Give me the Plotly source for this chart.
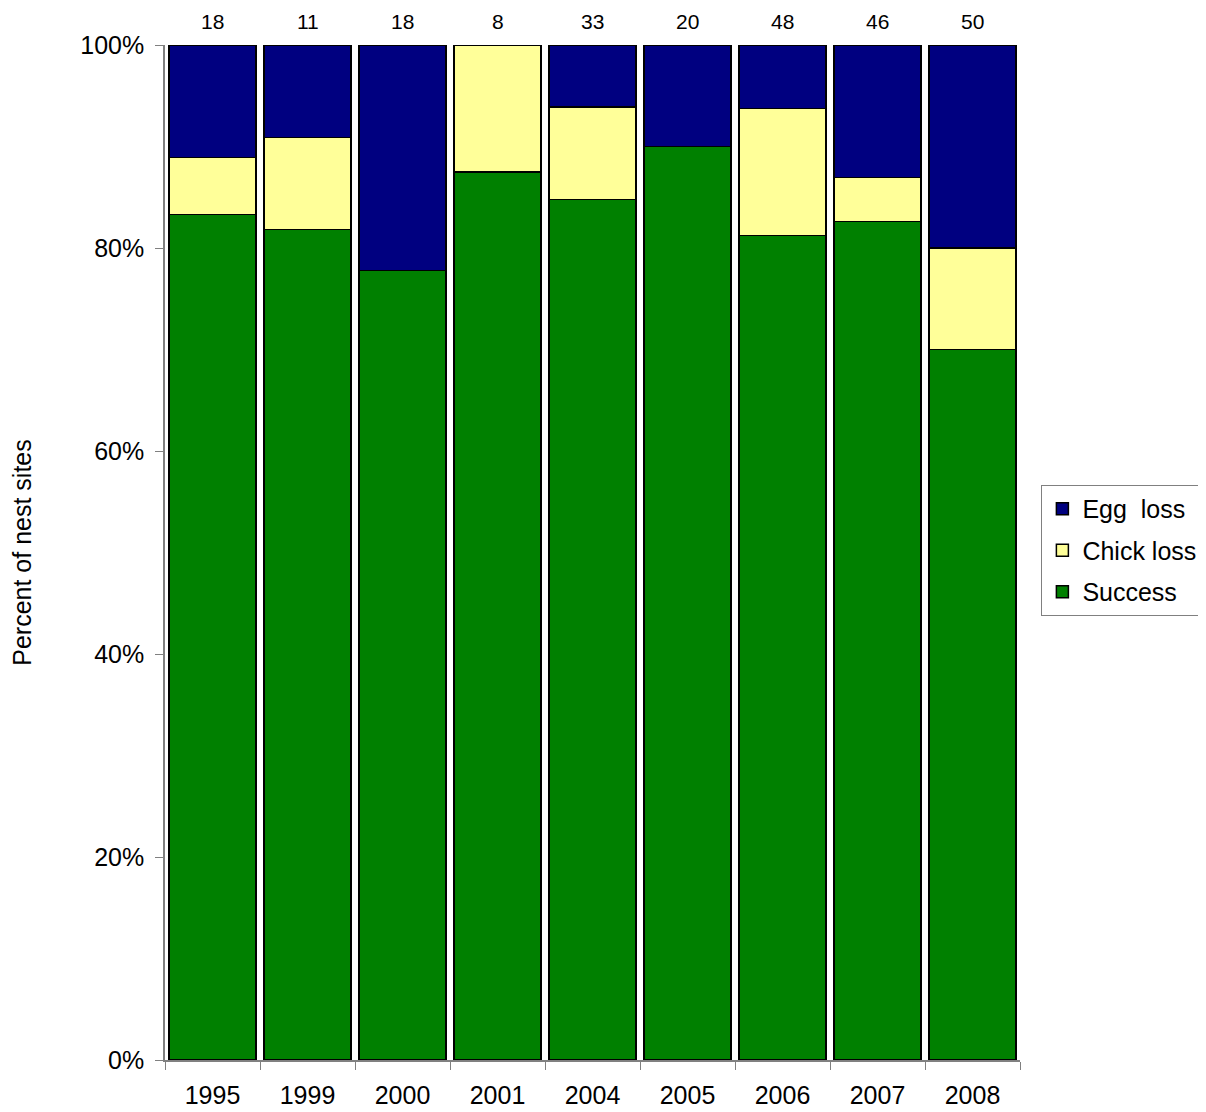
import plotly.graph_objects as go

years = ["1995", "1999", "2000", "2001", "2004", "2005", "2006", "2007", "2008"]
n_sites = [18, 11, 18, 8, 33, 20, 48, 46, 50]
success = [83.3, 81.8, 77.8, 87.5, 84.8, 90.0, 81.25, 82.6, 70.0]
chick_loss = [5.6, 9.1, 0.0, 12.5, 9.1, 0.0, 12.5, 4.35, 10.0]
egg_loss = [11.1, 9.1, 22.2, 0.0, 6.1, 10.0, 6.25, 13.05, 20.0]

# name, values, colour, legend position
series = [
    ("Success", success, "#008000", 3),
    ("Chick loss", chick_loss, "#FFFF99", 2),
    ("Egg  loss", egg_loss, "#000080", 1),
]

fig = go.Figure()
for name, vals, col, rank in series:
    # one legend group per trace so tracegroupgap spaces the legend rows
    fig.add_bar(x=years, y=vals, name=name, legendgroup=name, legendrank=rank,
                marker=dict(color=col, line=dict(color="black", width=1.5)))

# sample sizes above each bar (category index on the x axis)
for i, n in enumerate(n_sites):
    fig.add_annotation(x=i, y=1, xref="x", yref="paper", text=str(n),
                       showarrow=False, yanchor="middle", yshift=24,
                       font=dict(size=21, color="black"))

fig.update_layout(
    barmode="stack",
    bargap=0.085,
    width=1206, height=1112,
    margin=dict(l=157, r=192, t=37, b=60),
    paper_bgcolor="white", plot_bgcolor="white",
    font=dict(family="Liberation Sans, Arial, sans-serif", size=25, color="black"),
    legend=dict(traceorder="grouped", x=1.025, xanchor="left", y=0.502, yanchor="middle",
                bordercolor="#808080", borderwidth=1, font=dict(size=25),
                itemwidth=30, tracegroupgap=6),
    showlegend=True,
)
fig.update_xaxes(type="category", range=[-0.5, len(years) - 0.5],
                 showline=True, linecolor="#808080", linewidth=1.5,
                 ticks="outside", tickson="boundaries", ticklen=8, tickcolor="#808080",
                 tickangle=0, ticklabelstandoff=12, automargin=False)
fig.update_yaxes(range=[0, 100], dtick=20, ticksuffix="%", showgrid=False, zeroline=False,
                 showline=True, linecolor="#808080", linewidth=1.5,
                 ticks="outside", ticklen=8, tickcolor="#808080", ticklabelstandoff=6,
                 automargin=False,
                 title=dict(text="Percent of nest sites", standoff=51, font=dict(size=25)))

fig.write_html("out.html")
